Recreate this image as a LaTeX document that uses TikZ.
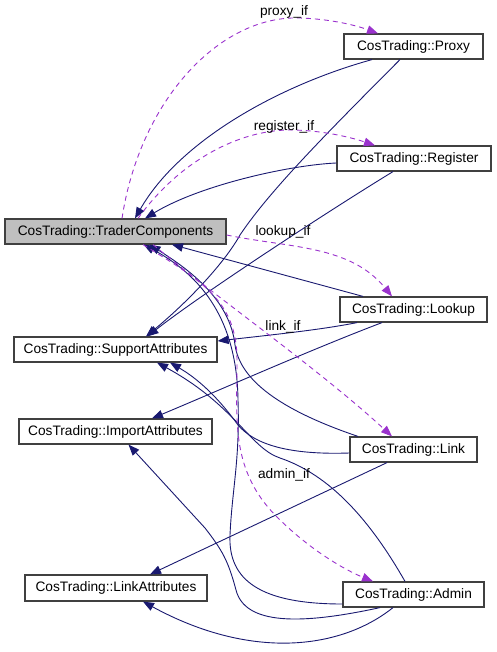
\documentclass[tikz,border=0pt]{standalone}
\usepackage{fontspec}
\setmainfont{Liberation Sans}
\usetikzlibrary{arrows.meta}
\definecolor{navy}{HTML}{191970}
\definecolor{orchid}{HTML}{9A32CD}
\definecolor{boxgray}{HTML}{BFBFBF}
\definecolor{border}{HTML}{404040}
\begin{document}
\begin{tikzpicture}[x=1pt,y=-1pt,
  cls/.style={draw=border, line width=1.2pt, fill=white, inner sep=0pt, minimum height=25pt, font=\fontsize{13.7}{15}\selectfont},
  inh/.style={draw=navy, line width=0.9pt, arrows={-{Triangle[length=11pt,width=8.5pt,fill=navy]}}},
  use/.style={draw=orchid, line width=0.9pt, dash pattern=on 5pt off 4pt, arrows={-{Triangle[length=11pt,width=8.5pt,fill=orchid]}}},
  lbl/.style={font=\fontsize{13.7}{15}\selectfont, inner sep=0pt}]
\useasboundingbox (0,0) rectangle (496,652);
% nodes
\node[cls, fill=boxgray, minimum width=221pt] (tc) at (115.5,231.5) {CosTrading::TraderComponents};
\node[cls, minimum width=139pt] (proxy) at (413.5,46.5) {CosTrading::Proxy};
\node[cls, minimum width=154pt] (register) at (414,158.5) {CosTrading::Register};
\node[cls, minimum width=147pt] (lookup) at (413.5,309.5) {CosTrading::Lookup};
\node[cls, minimum width=203pt] (sa) at (115.5,349.5) {CosTrading::SupportAttributes};
\node[cls, minimum width=193pt] (ia) at (115.5,431.5) {CosTrading::ImportAttributes};
\node[cls, minimum width=127pt] (link) at (413.5,449.5) {CosTrading::Link};
\node[cls, minimum width=182pt, minimum height=26pt] (la) at (116,588) {CosTrading::LinkAttributes};
\node[cls, minimum width=141pt] (admin) at (413.5,594.5) {CosTrading::Admin};
% inheritance edges
\draw[inh] ([xshift=-41.5pt]proxy.south) .. controls (280,85) and (180,140) .. ([xshift=19.5pt]tc.north);
\draw[inh] ([xshift=-13.5pt]proxy.south) .. controls (330,130) and (270,190) .. (240,235) .. controls (225,262) and (190,300) .. ([xshift=30.5pt]sa.north);
\draw[inh] ([yshift=-4.5pt]register.west) .. controls (290,165) and (200,185) .. ([xshift=29.5pt]tc.north);
\draw[inh] ([xshift=-21pt]register.south) .. controls (330,210) and (200,295) .. ([xshift=32pt]sa.north);
\draw[inh] ([xshift=-50.5pt]lookup.north) -- ([xshift=56.5pt]tc.south);
\draw[inh] ([xshift=-56.5pt]lookup.south) .. controls (320,330) and (270,335) .. ([yshift=8.5pt]sa.east);
\draw[inh] ([xshift=-31.5pt]lookup.south) .. controls (310,350) and (220,390) .. ([xshift=36.5pt]ia.north);
\draw[inh] ([xshift=-55.5pt]link.north) .. controls (280,410) and (240,380) .. (235,345) .. controls (230,300) and (190,270) .. ([xshift=34pt]tc.south);
\draw[inh] ([yshift=-3.5pt]link.west) .. controls (290,455) and (255,445) .. (238,425) .. controls (220,400) and (200,380) .. ([xshift=54.5pt]sa.south);
\draw[inh] ([xshift=-26.5pt]link.south) -- ([xshift=34pt]la.north);
\draw[inh] ([yshift=-9.5pt]admin.west) .. controls (260,604) and (228,580) .. (230,535) .. controls (232,490) and (240,460) .. (238,400) .. controls (237,330) and (210,280) .. ([xshift=28pt]tc.south);
\draw[inh] ([xshift=-8.5pt]admin.north) .. controls (370,520) and (330,475) .. (280,458) .. controls (250,448) and (235,405) .. ([xshift=41.5pt]sa.south);
\draw[inh] ([xshift=-33.5pt]admin.south) .. controls (300,625) and (245,625) .. (236,590) .. controls (228,560) and (222,550) .. (205,528) -- ([xshift=13pt]ia.south);
\draw[inh] ([xshift=-20.5pt]admin.south) .. controls (340,650) and (250,660) .. ([xshift=27pt]la.south);
% usage edges
\draw[use] ([xshift=6.5pt]tc.north) .. controls (140,100) and (220,15) .. (300,18) .. controls (330,19) and (355,25) .. ([xshift=-35.5pt]proxy.north);
\draw[use] ([xshift=22.5pt]tc.north) .. controls (180,160) and (240,130) .. (290,130) .. controls (320,130) and (350,137) .. ([xshift=-39pt]register.north);
\draw[use] ([yshift=-3.5pt]tc.east) .. controls (290,248) and (350,245) .. ([xshift=-21.5pt]lookup.north);
\draw[use] ([xshift=37.5pt]tc.south) .. controls (220,300) and (320,370) .. ([xshift=-21.5pt]link.north);
\draw[use] ([xshift=27.5pt]tc.south) .. controls (200,280) and (237,300) .. (237,360) .. controls (237,420) and (230,470) .. (277,517) .. controls (310,550) and (345,570) .. ([xshift=-40.5pt]admin.north);
% labels
\node[lbl] (lproxy) at (284,12) {proxy\_if};
\node[lbl] (lregister) at (284,127) {register\_if};
\node[lbl] (llookup) at (283,232) {lookup\_if};
\node[lbl] (llink) at (283,327) {link\_if};
\node[lbl] (ladmin) at (284,475) {admin\_if};
\end{tikzpicture}
\end{document}
